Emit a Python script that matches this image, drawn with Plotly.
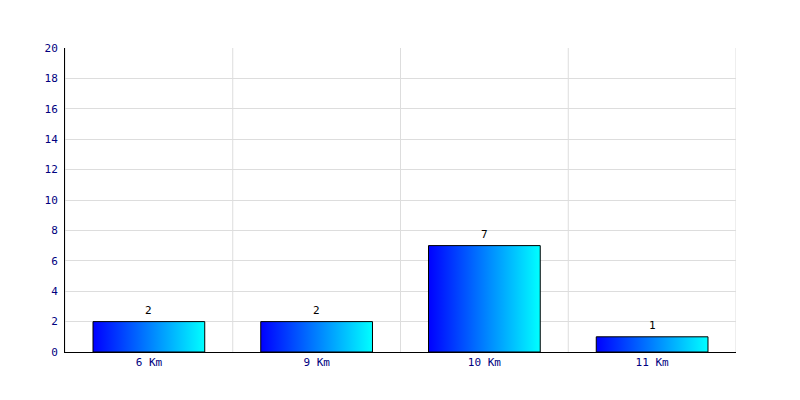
import plotly.graph_objects as go

categories = ["6 Km", "9 Km", "10 Km", "11 Km"]
values = [2, 2, 7, 1]
y_ticks = [0, 2, 4, 6, 8, 10, 12, 14, 16, 18, 20]

bar_half = 0.333
font_family = "DejaVu Sans Mono"

fig = go.Figure()
for i, v in enumerate(values):
    fig.add_trace(go.Scatter(
        x=[i - bar_half, i + bar_half, i + bar_half, i - bar_half, i - bar_half],
        y=[0, 0, v, v, 0],
        mode="lines",
        fill="toself",
        fillgradient=dict(type="horizontal",
                          colorscale=[[0, "#0000ff"], [1, "#00ffff"]]),
        line=dict(color="black", width=1),
        hoverinfo="skip",
        showlegend=False,
    ))

annotations = []
for i, v in enumerate(values):
    annotations.append(dict(x=i, y=v, xref="x", yref="y", text=str(v),
                            showarrow=False, yanchor="bottom", yshift=3,
                            font=dict(family=font_family, size=11,
                                      color="black")))

shapes = []
for k in range(len(categories) + 1):
    shapes.append(dict(type="line", xref="x", yref="paper",
                       x0=k - 0.5, x1=k - 0.5, y0=0, y1=1,
                       line=dict(color="#dddddd", width=1), layer="below"))

fig.update_layout(
    width=800, height=400,
    margin=dict(l=57, r=72, t=40, b=56),
    paper_bgcolor="white", plot_bgcolor="white",
    font=dict(family=font_family, size=11, color="#000080"),
    shapes=shapes,
    annotations=annotations,
    xaxis=dict(range=[-0.5, len(categories) - 0.5], tickmode="array",
               tickvals=list(range(len(categories))), ticktext=categories,
               showgrid=False, zeroline=False, showline=True,
               linecolor="black", linewidth=1, ticks="", fixedrange=True,
               tickfont=dict(family=font_family, size=11, color="#000080")),
    yaxis=dict(range=[0, 20], tickmode="array", tickvals=y_ticks,
               showgrid=True, gridcolor="#dddddd", zeroline=False,
               showline=True, linecolor="black", linewidth=1, ticks="",
               ticklabelstandoff=4,
               tickfont=dict(family=font_family, size=11, color="#000080")),
)

fig.write_html("out.html")
